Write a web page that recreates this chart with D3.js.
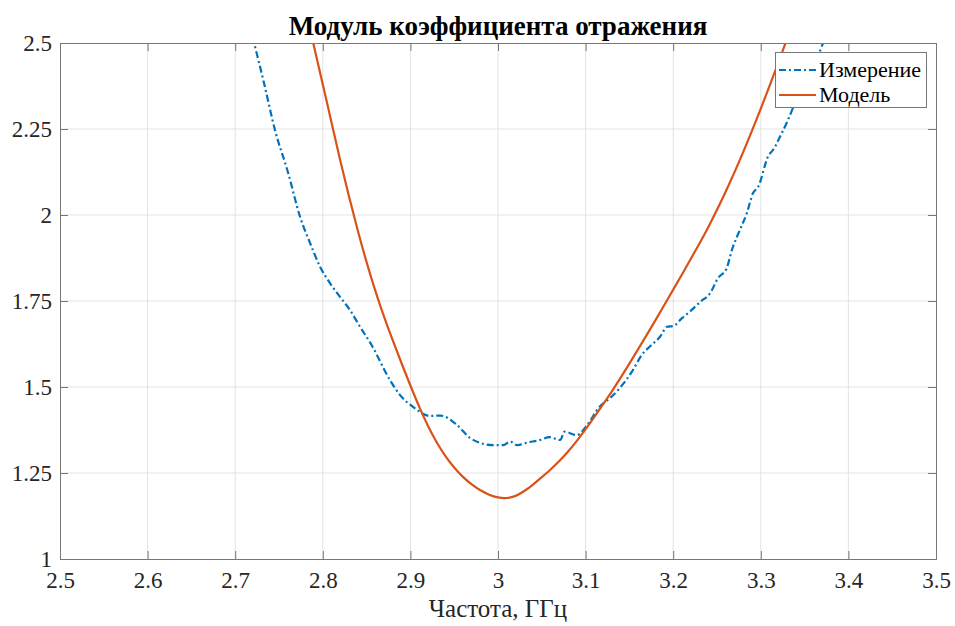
<!DOCTYPE html>
<html><head><meta charset="utf-8">
<script src="https://cdn.jsdelivr.net/npm/d3@7"></script>
<style>body{margin:0;background:#fff}</style>
</head><body>
<svg id="c" width="955" height="626"></svg>
<script>
const xTicks = [2.5,2.6,2.7,2.8,2.9,3,3.1,3.2,3.3,3.4,3.5];
const yTicks = [1,1.25,1.5,1.75,2,2.25,2.5];
const yTickLabels = ["1","1.25","1.5","1.75","2","2.25","2.5"];
const seriesNames = ["Измерение","Модель"];

const measFreq = [2.715,2.7215,2.7321,2.7454,2.7606,2.774,2.7854,2.7968,2.8082,2.8196,2.831,2.8425,2.855,2.8767,2.888,2.903,2.922,2.934,2.953,2.968,2.979,2.994,3.006,3.014,3.022,3.033,3.048,3.059,3.071,3.076,3.090,3.102,3.116,3.128,3.139,3.154,3.164,3.173,3.185,3.193,3.200,3.210,3.219,3.231,3.242,3.251,3.261,3.267,3.276,3.284,3.291,3.297,3.309,3.314,3.322,3.331,3.339,3.348,3.358,3.371,3.375];
const measVal  = [2.56,2.5,2.392,2.247,2.121,1.995,1.919,1.850,1.802,1.762,1.724,1.675,1.625,1.520,1.477,1.442,1.416,1.417,1.390,1.352,1.338,1.331,1.331,1.341,1.331,1.338,1.346,1.354,1.346,1.370,1.360,1.390,1.443,1.468,1.497,1.549,1.593,1.617,1.646,1.675,1.677,1.700,1.719,1.748,1.772,1.816,1.845,1.898,1.956,2.005,2.063,2.082,2.174,2.189,2.228,2.276,2.325,2.37,2.42,2.5,2.53];

const modelFreq = [2.78,2.79,2.80,2.81,2.82,2.83,2.84,2.85,2.86,2.87,2.88,2.89,2.90,2.91,2.92,2.93,2.94,2.95,2.96,2.97,2.98,2.99,3.00,3.01,3.02,3.03,3.04,3.05,3.06,3.07,3.08,3.09,3.10,3.11,3.12,3.13,3.14,3.15,3.16,3.17,3.18,3.19,3.20,3.21,3.22,3.23,3.24,3.25,3.26,3.27,3.28,3.29,3.30,3.31,3.32,3.33,3.34];
const modelVal  = [2.60,2.49,2.38,2.268,2.157,2.052,1.953,1.862,1.778,1.703,1.634,1.568,1.504,1.442,1.386,1.338,1.298,1.265,1.238,1.216,1.199,1.186,1.178,1.176,1.182,1.197,1.216,1.238,1.260,1.284,1.312,1.343,1.377,1.413,1.450,1.487,1.527,1.568,1.610,1.652,1.695,1.739,1.783,1.827,1.872,1.917,1.964,2.015,2.068,2.124,2.183,2.245,2.309,2.375,2.443,2.512,2.582];

const svg = d3.select("#c");
const L=60,R=936,T=43,B=559;
const x = d3.scaleLinear().domain([2.5,3.5]).range([L,R]);
const y = d3.scaleLinear().domain([1,2.5]).range([B,T]);
const font = "'Liberation Serif','Times New Roman',serif";
const axisCol = "#777", textCol="#262626", gridCol="#e3e3e3";

// grid
svg.append("g").selectAll("line").data(xTicks.slice(1,-1)).join("line")
  .attr("x1",d=>x(d)).attr("x2",d=>x(d)).attr("y1",T).attr("y2",B).attr("stroke",gridCol);
svg.append("g").selectAll("line").data(yTicks.slice(1,-1)).join("line")
  .attr("y1",d=>y(d)).attr("y2",d=>y(d)).attr("x1",L).attr("x2",R).attr("stroke",gridCol);

// clip
svg.append("clipPath").attr("id","clip").append("rect").attr("x",L).attr("y",T).attr("width",R-L).attr("height",B-T);

const meas = measFreq.map((f,i)=>[x(f),y(measVal[i])]);
const model = modelFreq.map((f,i)=>[x(f),y(modelVal[i])]);
const g = svg.append("g").attr("clip-path","url(#clip)");
g.append("path").attr("d",d3.line().curve(d3.curveMonotoneX)(meas)).attr("fill","none").attr("stroke","#0072BD").attr("stroke-width",2.2).attr("stroke-dasharray","7,3,2,3");
g.append("path").attr("d",d3.line().curve(d3.curveBasis)(model)).attr("fill","none").attr("stroke","#D95319").attr("stroke-width",2.2);

// axes with inward ticks on all sides
const ax = svg.append("g");
const gb = ax.append("g").attr("transform",`translate(0,${B})`).call(d3.axisBottom(x).tickValues(xTicks).tickSize(-8).tickFormat(d=>d3.format("")(d)).tickPadding(13));
ax.append("g").attr("transform",`translate(0,${T})`).call(d3.axisTop(x).tickValues(xTicks).tickSize(-8).tickFormat(""));
const gl = ax.append("g").attr("transform",`translate(${L},0)`).call(d3.axisLeft(y).tickValues(yTicks).tickSize(-8).tickFormat((d,i)=>yTickLabels[i]).tickPadding(8));
ax.append("g").attr("transform",`translate(${R},0)`).call(d3.axisRight(y).tickValues(yTicks).tickSize(-8).tickFormat(""));
[gb,gl].forEach(s=>s.attr("font-family",font).attr("font-size",23));
ax.selectAll(".domain").attr("stroke",axisCol);
ax.selectAll(".tick line").attr("stroke",axisCol);
ax.selectAll(".tick text").attr("fill",textCol).style("font-family",font).style("font-size","23px");

// title
svg.append("text").attr("x",498).attr("y",35).attr("text-anchor","middle")
  .style("font-family",font).style("font-weight","bold").style("font-size","27px").attr("fill","#000")
  .text("Модуль коэффициента отражения");
// x label
svg.append("text").attr("x",498).attr("y",617).attr("text-anchor","middle")
  .style("font-family",font).style("font-size","25px").attr("fill",textCol)
  .text("Частота, ГГц");

// legend
const lg = svg.append("g");
lg.append("rect").attr("x",775.5).attr("y",52.5).attr("width",151).attr("height",55).attr("fill","#fff").attr("stroke","#777");
const colors=["#0072BD","#D95319"], dashes=["7,3,2,3",null];
seriesNames.forEach((n,i)=>{
  const yy = 70+i*25;
  lg.append("line").attr("x1",779).attr("x2",816).attr("y1",yy).attr("y2",yy).attr("stroke",colors[i]).attr("stroke-width",2.2).attr("stroke-dasharray",dashes[i]);
  lg.append("text").attr("x",819).attr("y",yy+7).style("font-family",font).style("font-size","22px").attr("fill","#000").text(n);
});
</script>
</body></html>
